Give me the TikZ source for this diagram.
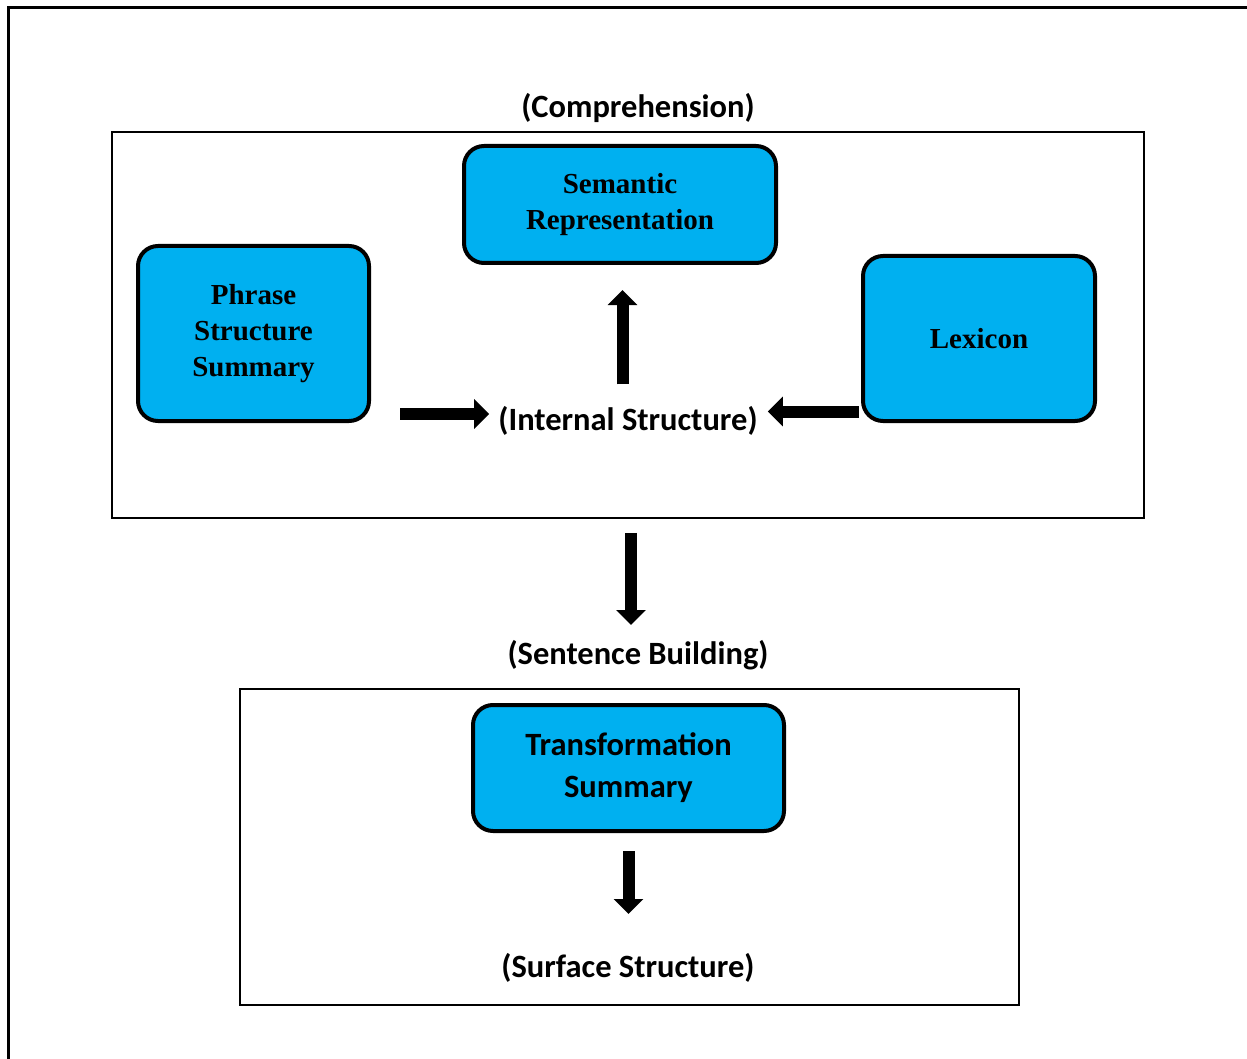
\documentclass[tikz,border=0pt]{standalone}
\usepackage{fontspec}
\newfontfamily\calfont{Carlito}
\newfontfamily\timesfont{Liberation Serif}
\usetikzlibrary{arrows.meta}
\definecolor{boxblue}{RGB}{0,176,240}
\tikzset{
  bluebox/.style={draw=black, line width=4pt, fill=boxblue, rounded corners=20pt, inner sep=0pt, align=center},
  serifbox/.style={bluebox, font=\timesfont\bfseries\fontsize{29}{36}\selectfont},
  calbox/.style={bluebox, font=\calfont\bfseries\fontsize{32.5}{42}\selectfont},
  lbl/.style={font=\calfont\bfseries\fontsize{32.5}{38}\selectfont, inner sep=2pt},
  frame/.style={draw=black, line width=1.5pt},
  fat/.style={line width=12pt, -{Triangle[width=29pt,length=15pt]}}
}
\begin{document}
\begin{tikzpicture}[x=1pt,y=-1pt]
\useasboundingbox (0,0) rectangle (1247,1059);
% outer frame (partially visible)
\draw[line width=3pt] (8,1059) -- (8,8) -- (1247,8);
% group frames
\node[frame, minimum width=1032pt, minimum height=386pt, inner sep=0pt] (upper) at (628,325) {};
\node[frame, minimum width=779pt, minimum height=316pt, inner sep=0pt] (lower) at (629.5,847) {};
% labels
\node[lbl] (compr) at (638,108) {(Comprehension)};
\node[lbl] (intl) at (628,421) {(Internal Structure)};
\node[lbl] (sentb) at (638,655) {(Sentence Building)};
\node[lbl] (surf) at (628,968) {(Surface Structure)};
% boxes
\node[serifbox, minimum width=312pt, minimum height=117pt] (sem) at (620,204.5) {Semantic\\[-0.5pt]Representation};
\node[serifbox, minimum width=231pt, minimum height=175pt] (ps) at (253.5,333.5) {Phrase\\Structure\\Summary};
\node[serifbox, minimum width=232pt, minimum height=165pt] (lex) at (979,338.5) {Lexicon};
\node[calbox, minimum width=311pt, minimum height=126pt] (trans) at (628.5,768) {Transformation\\Summary};
% arrows
\draw[fat] ([xshift=-5.5pt]intl.north) ++(0,-20) coordinate (upstart) -- (upstart |- 0,290);
\draw[fat, shorten <=29pt, shorten >=7pt] ([yshift=7pt]ps.east |- intl.west) -- ([yshift=7pt]intl.west);
\draw[fat, shorten <=2pt, shorten >=8pt] ([yshift=9.5pt]lex.west |- intl.east) -- ([yshift=9.5pt]intl.east);
\draw[fat] (upper.south -| 631,0) ++(0,14) coordinate (midstart) -- (midstart |- 0,625);
\draw[fat] (trans.south) ++(0,18) coordinate (tstart) -- (tstart |- 0,914);
\end{tikzpicture}
\end{document}
